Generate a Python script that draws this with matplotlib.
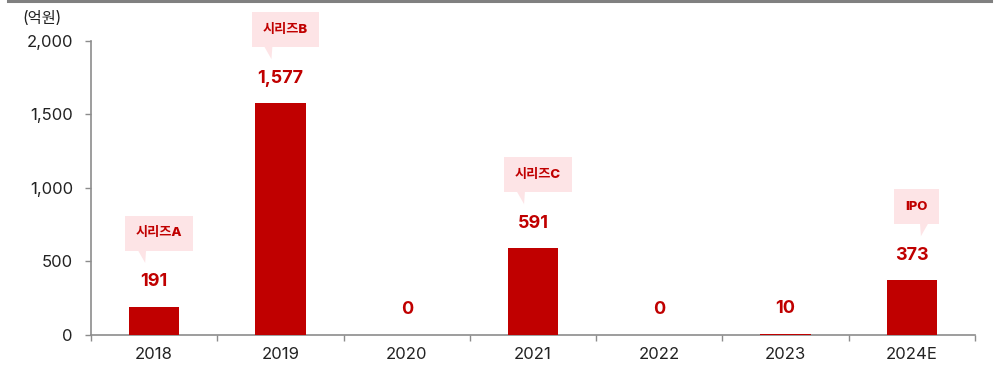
import matplotlib
matplotlib.use("Agg")
import matplotlib.pyplot as plt
from matplotlib.patches import Polygon
from matplotlib.lines import Line2D
from matplotlib.ticker import FuncFormatter, FixedLocator
from matplotlib.transforms import Affine2D

# 숫자/영문은 Inter, 한글은 Noto Sans CJK KR
plt.rcParams['font.family'] = ['Inter', 'Noto Sans CJK KR', 'DejaVu Sans']

# 연도별 투자 유치 금액 (억원)
years = ['2018', '2019', '2020', '2021', '2022', '2023', '2024E']
amounts = [191, 1577, 0, 591, 0, 10, 373]
rounds = {0: '시리즈A', 1: '시리즈B', 3: '시리즈C', 6: 'IPO'}
unit_label = '(억원)'

bar_color = '#C00000'
box_color = '#FDE4E6'
axis_color = '#8C8C8C'

fig = plt.figure(figsize=(9.97, 3.70), dpi=100)
ax = fig.add_axes([0.0913, 0.0946, 0.8867, 0.7946])

x = list(range(len(years)))
ax.bar(x, amounts, width=0.4, color=bar_color, zorder=3)

ax.set_xlim(-0.5, len(years) - 0.5)
ax.set_ylim(0, 2000)
ax.set_yticks([0, 500, 1000, 1500, 2000])
ax.yaxis.set_major_formatter(FuncFormatter(lambda v, p: f'{int(v):,}'))
ax.set_xticks(x)
ax.set_xticklabels(years)
ax.xaxis.set_minor_locator(FixedLocator([i - 0.5 for i in range(len(years) + 1)]))

for s in ['top', 'right']:
    ax.spines[s].set_visible(False)
for s in ['left', 'bottom']:
    ax.spines[s].set_color(axis_color)
    ax.spines[s].set_linewidth(1.2)

ax.tick_params(axis='y', length=4, width=1, color=axis_color, pad=9,
               labelsize=12, labelcolor='#222222')
ax.tick_params(axis='x', which='major', length=0, pad=9,
               labelsize=12, labelcolor='#222222')
ax.tick_params(axis='x', which='minor', length=4, width=1, color=axis_color)

# 막대 위 금액 라벨
for i, v in enumerate(amounts):
    ax.annotate(f'{v:,}', (i, v), xytext=(0, 18), textcoords='offset points',
                ha='center', va='center', fontsize=13, fontweight='bold',
                color=bar_color)

# 투자 라운드 말풍선 (픽셀 단위로 그림)
fig.canvas.draw()
for i, name in rounds.items():
    px, py = ax.transData.transform((i, amounts[i]))
    side = 1 if i == len(years) - 1 else -1
    to_px = Affine2D().translate(px, py)
    ax.annotate(name, (i, amounts[i]), xytext=(3.5, 53), textcoords='offset points',
                ha='center', va='center', fontsize=9.5, fontweight=800,
                color=bar_color, zorder=5,
                bbox=dict(boxstyle='square,pad=0.85', fc=box_color, ec='none'))
    tri = Polygon([(side * 17, 58), (side * 8, 58), (side * 9, 44)], closed=True,
                  fc=box_color, ec='none', transform=to_px, zorder=4)
    fig.add_artist(tri)

fig.text(0.042, 0.95, unit_label, ha='center', va='center', fontsize=11,
         color='#222222')

# 상단 구분선
fig.add_artist(Line2D([0.008, 0.994], [0.997, 0.997], color='#808080',
                      linewidth=2.2, transform=fig.transFigure))

fig.savefig('out.png', dpi=100)
